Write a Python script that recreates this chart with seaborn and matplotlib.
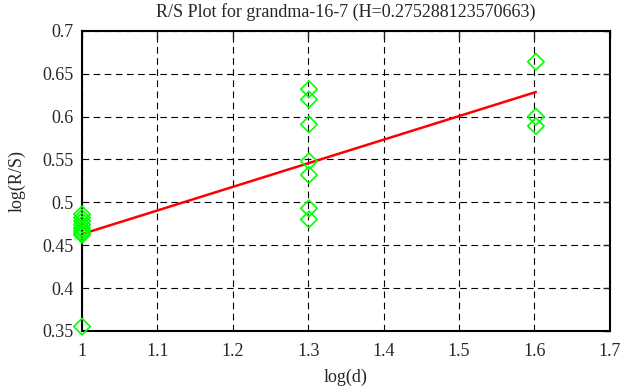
import numpy as np
import pandas as pd
import matplotlib
matplotlib.use("Agg")
import matplotlib.pyplot as plt
import seaborn as sns

# -----------------------------
# Data
# -----------------------------
log_d = [1.0] * 9 + [1.30103] * 7 + [1.60206] * 3
log_rs = [0.355, 0.486, 0.482, 0.478, 0.474, 0.470, 0.467, 0.464, 0.462,
          0.632, 0.620, 0.591, 0.548, 0.532, 0.493, 0.480,
          0.664, 0.600, 0.589]

H = 0.275288123570663
intercept = 0.1877
fit_x = [1.0, 1.60206]

df = pd.DataFrame({"log(d)": log_d, "log(R/S)": log_rs})
fit = pd.DataFrame({"x": fit_x, "y": [intercept + H * v for v in fit_x]})

# -----------------------------
# Plot
# -----------------------------
sns.set_style("white")
plt.rcParams["font.family"] = ["Liberation Serif", "DejaVu Serif"]

fig = plt.figure(figsize=(6.26, 3.87), dpi=100)
ax = fig.add_axes([0.131, 0.145, 0.843, 0.775])

sns.scatterplot(data=df, x="log(d)", y="log(R/S)", marker="D", s=70,
                facecolors="none", edgecolor="#00ff00", linewidth=1.2,
                ax=ax, zorder=3, clip_on=False)
sns.lineplot(data=fit, x="x", y="y", color="#ff0000", linewidth=1.8,
             ax=ax, zorder=2)

ax.set_xlim(1, 1.7)
ax.set_ylim(0.35, 0.7)
ax.set_xticks(np.arange(1, 1.71, 0.1))
ax.set_xticklabels(["1", "1.1", "1.2", "1.3", "1.4", "1.5", "1.6", "1.7"])
ax.set_yticks(np.arange(0.35, 0.701, 0.05))
ax.set_yticklabels(["0.35", "0.4", "0.45", "0.5", "0.55", "0.6", "0.65", "0.7"])

ax.grid(True, color="black", linestyle=(0, (6, 4)), linewidth=0.8)
for s in ax.spines.values():
    s.set_color("black")
    s.set_linewidth(1.5)
ax.tick_params(direction="in", length=5, width=1, labelsize=13,
               top=True, right=True)
ax.tick_params(axis="x", pad=9)
ax.tick_params(axis="y", pad=6)

ax.set_xlabel("log(d)", fontsize=13, labelpad=6)
ax.set_ylabel("log(R/S)", fontsize=13, labelpad=12)
ax.set_title("R/S Plot for grandma-16-7 (H=0.275288123570663)", fontsize=13, pad=10)

fig.savefig("out.png", dpi=100)
